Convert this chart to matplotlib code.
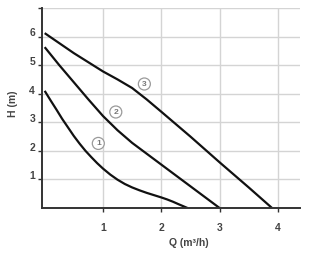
import matplotlib.pyplot as plt
import matplotlib.transforms as mtransforms

# pump curves, Q (m3/h) vs H (m)
q1 = [0, 0.1, 0.2, 0.3, 0.4, 0.5, 0.6, 0.7, 0.8, 0.9, 1.0, 1.125, 1.25,
      1.375, 1.5, 1.625, 1.75, 1.875, 2.0, 2.1, 2.2, 2.3, 2.45]
h1 = [4.1, 3.77, 3.45, 3.12, 2.82, 2.52, 2.25, 2.0, 1.78, 1.57, 1.38, 1.17, 0.99,
      0.84, 0.72, 0.62, 0.53, 0.45, 0.37, 0.3, 0.22, 0.13, 0.0]

q2 = [0, 0.25, 0.5, 0.75, 1.0, 1.25, 1.5, 2.0, 2.5, 3.0]
h2 = [5.63, 5.0, 4.4, 3.8, 3.22, 2.72, 2.28, 1.52, 0.76, 0.0]

q3 = [0, 0.5, 1.0, 1.25, 1.5, 1.75, 2.0, 2.5, 3.0, 3.5, 3.9]
h3 = [6.12, 5.42, 4.78, 4.5, 4.2, 3.8, 3.37, 2.5, 1.6, 0.72, 0.0]

curve_ids = ["1", "2", "3"]
label_q = [0.92, 1.22, 1.71]
label_h = [2.26, 3.36, 4.34]

x_ticks = [1, 2, 3, 4]
y_ticks = [1, 2, 3, 4, 5, 6, 7]
y_tick_labels = ["1", "2", "3", "4", "5", "6", ""]

plt.rcParams["font.family"] = ["Liberation Sans", "DejaVu Sans"]

fig = plt.figure(figsize=(3.34, 2.54), dpi=100)
ax = fig.add_axes([42 / 334, 1 - 208 / 254, 258 / 334, 200 / 254])

ax.set_xlim(-0.046, 4.38)
ax.set_ylim(0, 7)

ax.grid(True, color="#d4d4d4", linewidth=1.0)
ax.set_axisbelow(True)

for q, h in [(q1, h1), (q2, h2), (q3, h3)]:
    ax.plot(q, h, color="#111111", linewidth=1.6, solid_capstyle="butt")

for cid, lq, lh in zip(curve_ids, label_q, label_h):
    ax.text(lq, lh, cid, fontsize=6, color="#777777", ha="center", va="center",
            fontweight="bold",
            bbox=dict(boxstyle="circle,pad=0.3", fc="white", ec="#9a9a9a", lw=0.9))

ax.spines["top"].set_visible(False)
ax.spines["right"].set_visible(False)
for s in ["left", "bottom"]:
    ax.spines[s].set_color("#333333")
    ax.spines[s].set_linewidth(1.4)

ax.set_xticks(x_ticks)
ax.set_yticks(y_ticks)
ax.set_yticklabels(y_tick_labels)
ax.tick_params(axis="both", length=3, width=1, color="#333333",
               labelsize=7.5, labelcolor="#444444", pad=2)
ax.tick_params(axis="x", pad=8)

# y labels sit a little above their grid lines
offset = mtransforms.ScaledTranslation(0, 3 / 72, fig.dpi_scale_trans)
for lab in ax.get_yticklabels():
    lab.set_transform(lab.get_transform() + offset)
    lab.set_fontweight("bold")
for lab in ax.get_xticklabels():
    lab.set_fontweight("bold")

ax.set_xlabel("Q (m³/h)", fontsize=7.5, color="#444444", fontweight="bold")
ax.set_ylabel("H (m)", fontsize=7.5, color="#444444", fontweight="bold")
ax.yaxis.set_label_coords(-24 / 258, 0.52)
ax.xaxis.set_label_coords(0.57, -30 / 200)

fig.savefig("out.png", dpi=100)
